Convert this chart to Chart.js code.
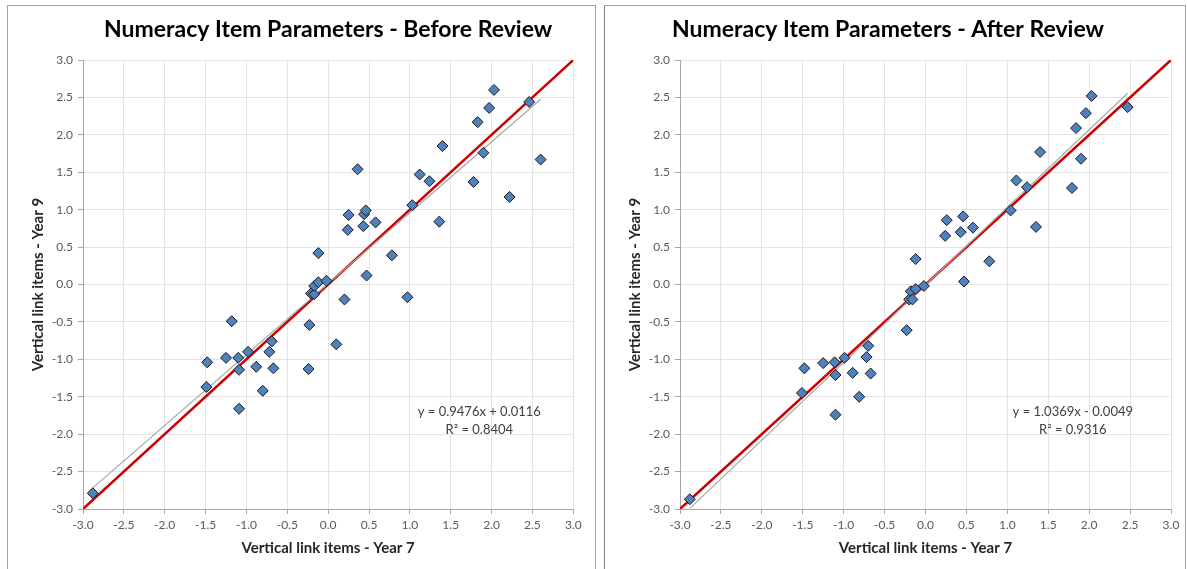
<!DOCTYPE html>
<html>
<head>
<meta charset="utf-8">
<script src="https://cdn.jsdelivr.net/npm/chart.js@4.4.1/dist/chart.umd.min.js"></script>
<style>
body { margin: 0; background: #fff; }
.panel { position: absolute; top: 5px; height: 570px; border: 1px solid #a0a0a0; border-bottom: none; background: #fff; }
#p1 { left: 7px; width: 587px; }
#p2 { left: 604px; width: 580px; border-left-color: #808080; }
canvas { display: block; }
</style>
</head>
<body>
<div class="panel" id="p1"><canvas id="before" width="587" height="564"></canvas></div>
<div class="panel" id="p2"><canvas id="after" width="580" height="564"></canvas></div>
<script>
// item locations, year 7 (x) against year 9 (y)
var year7Before = [-2.88, -1.49, -1.48, -1.25, -1.18, -1.10, -1.09, -1.09, -0.98, -0.88, -0.80, -0.72, -0.69, -0.67,
  -0.24, -0.23, -0.21, -0.17, -0.17, -0.12, -0.12, -0.02, 0.10, 0.20, 0.24, 0.25, 0.36, 0.43, 0.44, 0.46, 0.47,
  0.58, 0.78, 0.97, 1.03, 1.12, 1.24, 1.36, 1.40, 1.78, 1.83, 1.90, 1.97, 2.03, 2.22, 2.46, 2.60];
var year9Before = [-2.79, -1.37, -1.04, -0.98, -0.49, -0.98, -1.14, -1.66, -0.90, -1.10, -1.42, -0.90, -0.76, -1.12,
  -1.13, -0.54, -0.12, -0.13, -0.02, 0.03, 0.42, 0.05, -0.80, -0.20, 0.73, 0.93, 1.54, 0.78, 0.94, 0.99, 0.12,
  0.83, 0.39, -0.17, 1.06, 1.47, 1.38, 0.84, 1.85, 1.37, 2.17, 1.76, 2.36, 2.60, 1.17, 2.44, 1.67];

var year7After = [-2.88, -1.51, -1.48, -1.25, -1.11, -1.10, -1.10, -0.99, -0.89, -0.81, -0.72, -0.70, -0.67,
  -0.23, -0.20, -0.18, -0.16, -0.12, -0.12, -0.02, 0.24, 0.26, 0.43, 0.46, 0.47, 0.58, 0.78, 1.04, 1.11, 1.24,
  1.35, 1.40, 1.79, 1.84, 1.90, 1.96, 2.03, 2.47];
var year9After = [-2.87, -1.45, -1.12, -1.05, -1.04, -1.21, -1.74, -0.98, -1.18, -1.50, -0.97, -0.82, -1.19,
  -0.61, -0.20, -0.09, -0.20, -0.06, 0.34, -0.02, 0.65, 0.86, 0.70, 0.91, 0.04, 0.76, 0.31, 0.99, 1.39, 1.30,
  0.77, 1.77, 1.29, 2.09, 1.68, 2.29, 2.52, 2.37];

// linear trendline fits
var fitBefore = { slope: 0.9476, intercept: 0.0116, r2: 0.8404 };
var fitAfter = { slope: 1.0369, intercept: -0.0049, r2: 0.9316 };

var axisMin = -3, axisMax = 3, axisStep = 0.5;

var fitLabel = {
  id: 'fitLabel',
  afterDatasetsDraw: function (chart, args, opts) {
    var ctx = chart.ctx;
    var px = chart.scales.x.getPixelForValue(opts.x);
    var py = chart.scales.y.getPixelForValue(opts.y);
    ctx.save();
    ctx.font = '13px Lato';
    ctx.fillStyle = '#404040';
    ctx.textAlign = 'center';
    ctx.textBaseline = 'middle';
    ctx.fillText(opts.lines[0], px, py);
    ctx.fillText(opts.lines[1], px, py + 18);
    ctx.restore();
  }
};

function makeChart(id, title, xs, ys, fit, padRight, titleFull, labelX) {
  var points = xs.map(function (x, i) { return { x: x, y: ys[i] }; });
  var lo = Math.min.apply(null, xs), hi = Math.max.apply(null, xs);
  var trend = [{ x: lo, y: fit.slope * lo + fit.intercept }, { x: hi, y: fit.slope * hi + fit.intercept }];
  var sign = fit.intercept < 0 ? '- ' : '+ ';
  var eq = 'y = ' + fit.slope.toFixed(4) + 'x ' + sign + Math.abs(fit.intercept).toFixed(4);
  var r2 = 'R\u00b2 = ' + fit.r2.toFixed(4);

  var gridOpts = { color: '#e4e4e4', tickColor: '#a6a6a6', tickLength: 5 };
  var tickOpts = {
    stepSize: axisStep, color: '#595959', font: { family: 'Lato', size: 12 },
    callback: function (v) { return Number(v).toFixed(1); }
  };
  var axisFont = { family: 'Lato', size: 15, weight: 'bold' };

  return new Chart(document.getElementById(id), {
    type: 'scatter',
    data: {
      datasets: [{
        data: points,
        pointStyle: 'rectRot',
        pointRadius: 5.5,
        backgroundColor: '#4f81bd',
        borderColor: '#1a1a1a',
        borderWidth: 1
      }, {
        data: trend,
        showLine: true,
        pointRadius: 0,
        borderColor: '#a6a6a6',
        borderWidth: 1.2
      }, {
        data: [{ x: axisMin, y: axisMin }, { x: axisMax, y: axisMax }],
        showLine: true,
        pointRadius: 0,
        borderColor: '#cc0000',
        borderWidth: 2.5
      }]
    },
    options: {
      responsive: false,
      animation: false,
      layout: { padding: { left: 0, right: padRight, top: 0, bottom: 0 } },
      plugins: {
        legend: { display: false },
        tooltip: { enabled: false },
        title: {
          display: true, text: title, color: '#000', fullSize: titleFull,
          font: { family: 'Lato', size: 23, weight: 'bold' },
          padding: { top: 10, bottom: 16.4 }
        },
        fitLabel: { x: labelX, y: -1.70, lines: [eq, r2] }
      },
      scales: {
        x: {
          min: axisMin, max: axisMax,
          grid: gridOpts,
          border: { color: '#a6a6a6' },
          ticks: Object.assign({ padding: 4, maxRotation: 0 }, tickOpts),
          title: { display: true, text: 'Vertical link items - Year 7', color: '#262626',
            font: axisFont, padding: 13 },
          afterFit: function (s) { s.height = 61; }
        },
        y: {
          min: axisMin, max: axisMax,
          grid: gridOpts,
          border: { color: '#a6a6a6' },
          ticks: Object.assign({ padding: 5 }, tickOpts),
          title: { display: true, text: 'Vertical link items - Year 9', color: '#262626',
            font: axisFont, padding: 21 },
          afterFit: function (s) { s.width = 75; }
        }
      }
    },
    plugins: [fitLabel]
  });
}

makeChart('before', 'Numeracy Item Parameters - Before Review', year7Before, year9Before, fitBefore, 21.7, false, 1.85);
makeChart('after', 'Numeracy Item Parameters - After Review', year7After, year9After, fitAfter, 14, true, 1.80);
</script>
</body>
</html>
